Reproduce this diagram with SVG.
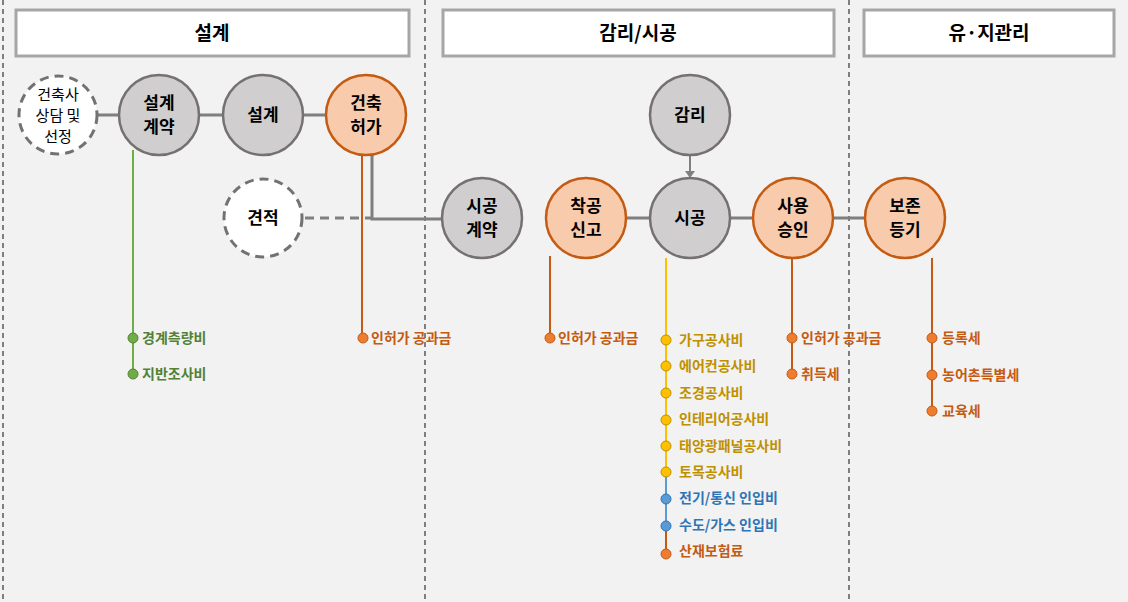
<svg xmlns="http://www.w3.org/2000/svg" width="1128" height="602" viewBox="0 0 1128 602">
<style>
text{font-family:"Noto Sans CJK KR","Noto Sans",sans-serif}
.hd{fill:#fff;stroke:#a6a6a6;stroke-width:3}
.ht{font-size:19px;font-weight:bold;fill:#000;text-anchor:middle}
.g{fill:#d0cece;stroke:#767171;stroke-width:2.5}
.o{fill:#f8cbad;stroke:#c55a11;stroke-width:2.5}
.w{fill:#fff;stroke:#767171;stroke-width:3;stroke-dasharray:9 6}
.nt{font-size:17px;font-weight:bold;fill:#000;text-anchor:middle}
.c{stroke:#7f7f7f;stroke-width:3;fill:none}
.lt{font-size:14px;font-weight:bold}
</style>
<rect width="1128" height="602" fill="#f2f2f2"/>
<g stroke="#7f7f7f" stroke-width="2" stroke-dasharray="5 4">
<line x1="3" y1="0" x2="3" y2="602"/><line x1="425" y1="0" x2="425" y2="602"/><line x1="849" y1="0" x2="849" y2="602"/>
</g>
<g id="h1"><rect class="hd" x="16" y="10" width="393" height="46"/><text class="ht" x="212" y="40">설계</text></g>
<g id="h2"><rect class="hd" x="443" y="10" width="391" height="46"/><text class="ht" x="638" y="40">감리/시공</text></g>
<g id="h3"><rect class="hd" x="864" y="10" width="250" height="46"/><text class="ht" x="989" y="40">유·지관리</text></g>
<g id="connectors">
<line class="c" x1="98" y1="115" x2="120" y2="115"/>
<line class="c" x1="199" y1="115" x2="223" y2="115"/>
<line class="c" x1="303" y1="115" x2="326" y2="115"/>
<polyline class="c" points="372,155 372,219 442,219"/>
<line class="c" x1="305" y1="218" x2="372" y2="218" stroke-dasharray="9 6"/>
<line class="c" x1="626" y1="218" x2="650" y2="218"/>
<line class="c" x1="730" y1="218" x2="753" y2="218"/>
<line class="c" x1="833" y1="218" x2="865" y2="218"/>
<line stroke="#7f7f7f" stroke-width="2" x1="690" y1="155" x2="690" y2="172"/>
<polygon points="685,171 695,171 690,178" fill="#7f7f7f"/>
<line stroke="#70ad47" stroke-width="2" x1="133" y1="150" x2="133" y2="374"/>
<line stroke="#c55a11" stroke-width="2" x1="362" y1="155" x2="362" y2="338"/>
<line stroke="#c55a11" stroke-width="2" x1="550" y1="256" x2="550" y2="338"/>
<line stroke="#ffc000" stroke-width="2" x1="666" y1="258" x2="666" y2="472"/>
<line stroke="#5b9bd5" stroke-width="2" x1="666" y1="472" x2="666" y2="525"/>
<line stroke="#c55a11" stroke-width="2" x1="666" y1="525" x2="666" y2="554"/>
<line stroke="#c55a11" stroke-width="2" x1="792" y1="258" x2="792" y2="374"/>
<line stroke="#c55a11" stroke-width="2" x1="932" y1="258" x2="932" y2="411"/>
</g>
<g id="n1"><circle class="w" cx="58" cy="115" r="39"/><text class="nt" style="font-weight:normal;font-size:15px" x="58" y="100">건축사</text><text class="nt" style="font-weight:normal;font-size:15px" x="58" y="121">상담 및</text><text class="nt" style="font-weight:normal;font-size:15px" x="58" y="142">선정</text></g>
<g id="n2"><circle class="g" cx="159" cy="115" r="40"/><text class="nt" x="159" y="109">설계</text><text class="nt" x="159" y="133">계약</text></g>
<g id="n3"><circle class="g" cx="263" cy="115" r="40"/><text class="nt" x="263" y="121">설계</text></g>
<g id="n4"><circle class="o" cx="366" cy="115" r="40"/><text class="nt" x="366" y="109">건축</text><text class="nt" x="366" y="133">허가</text></g>
<g id="n5"><circle class="w" cx="263" cy="218" r="39"/><text class="nt" x="263" y="224">견적</text></g>
<g id="n6"><circle class="g" cx="690" cy="115" r="40"/><text class="nt" x="690" y="121">감리</text></g>
<g id="n7"><circle class="g" cx="482" cy="218" r="40"/><text class="nt" x="482" y="212">시공</text><text class="nt" x="482" y="236">계약</text></g>
<g id="n8"><circle class="o" cx="586" cy="218" r="40"/><text class="nt" x="586" y="212">착공</text><text class="nt" x="586" y="236">신고</text></g>
<g id="n9"><circle class="g" cx="690" cy="218" r="40"/><text class="nt" x="690" y="224">시공</text></g>
<g id="n10"><circle class="o" cx="793" cy="218" r="40"/><text class="nt" x="793" y="212">사용</text><text class="nt" x="793" y="236">승인</text></g>
<g id="n11"><circle class="o" cx="905" cy="218" r="40"/><text class="nt" x="905" y="212">보존</text><text class="nt" x="905" y="236">등기</text></g>
<g id="labels" class="lt">
<g fill="#70ad47" stroke="#538135"><circle cx="133" cy="338" r="5"/><circle cx="133" cy="374" r="5"/></g>
<g fill="#538135" stroke="none"><text class="lt" x="142" y="343">경계측량비</text><text class="lt" x="142" y="379">지반조사비</text></g>
<g fill="#ed7d31" stroke="#c55a11"><circle cx="363" cy="338" r="5"/><circle cx="550" cy="338" r="5"/><circle cx="666" cy="554" r="5"/><circle cx="792" cy="338" r="5"/><circle cx="792" cy="374" r="5"/><circle cx="932" cy="338" r="5"/><circle cx="932" cy="375" r="5"/><circle cx="932" cy="411" r="5"/></g>
<g fill="#c55a11"><text class="lt" x="371" y="343">인허가 공과금</text><text class="lt" x="558" y="343">인허가 공과금</text><text class="lt" x="679" y="556">산재보험료</text><text class="lt" x="801" y="343">인허가 공과금</text><text class="lt" x="801" y="379">취득세</text><text class="lt" x="942" y="343">등록세</text><text class="lt" x="942" y="380">농어촌특별세</text><text class="lt" x="942" y="416">교육세</text></g>
<g fill="#ffc000" stroke="#bf9000"><circle cx="666" cy="340" r="5"/><circle cx="666" cy="366" r="5"/><circle cx="666" cy="393" r="5"/><circle cx="666" cy="420" r="5"/><circle cx="666" cy="446" r="5"/><circle cx="666" cy="472" r="5"/></g>
<g fill="#bf9000"><text class="lt" x="679" y="345">가구공사비</text><text class="lt" x="679" y="371">에어컨공사비</text><text class="lt" x="679" y="398">조경공사비</text><text class="lt" x="679" y="424">인테리어공사비</text><text class="lt" x="679" y="451">태양광패널공사비</text><text class="lt" x="679" y="477">토목공사비</text></g>
<g fill="#5b9bd5" stroke="#2e75b6"><circle cx="666" cy="499" r="5"/><circle cx="666" cy="526" r="5"/></g>
<g fill="#2e75b6"><text class="lt" x="679" y="503">전기/통신 인입비</text><text class="lt" x="679" y="530">수도/가스 인입비</text></g>
</g>
</svg>
